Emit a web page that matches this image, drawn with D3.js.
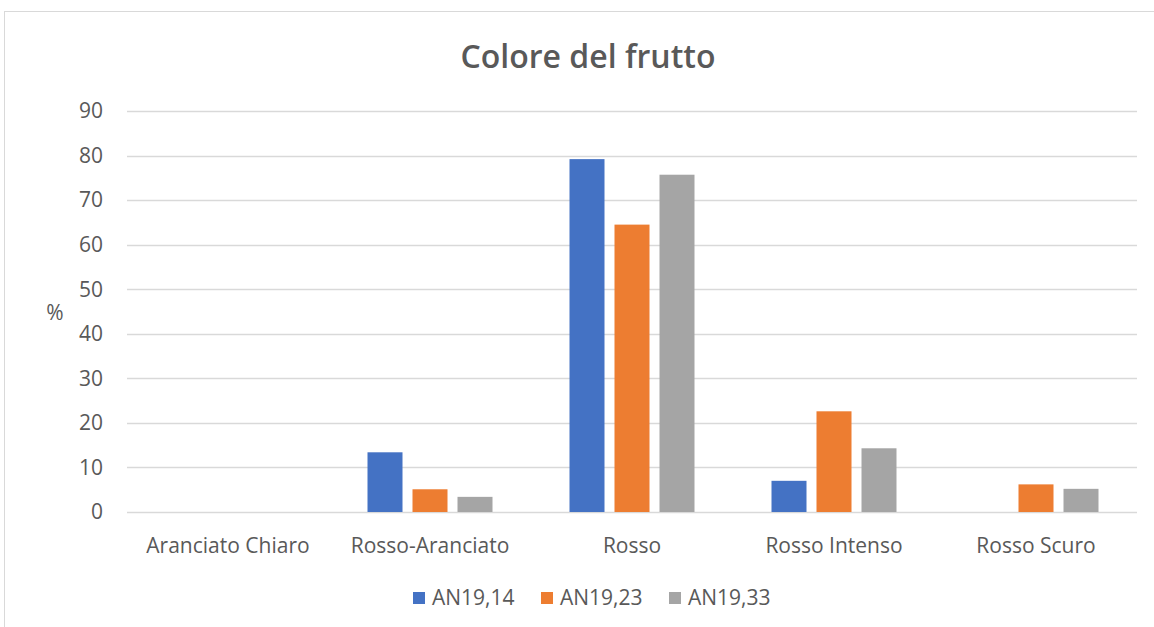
<!DOCTYPE html>
<html>
<head>
<meta charset="utf-8">
<script src="https://cdn.jsdelivr.net/npm/d3@7"></script>
<style>
  body { margin: 0; background: #fff; }
  text { font-family: "Open Sans", "Liberation Sans", sans-serif; }
</style>
</head>
<body>
<div id="chart"></div>
<script>
var categories = ["Aranciato Chiaro", "Rosso-Aranciato", "Rosso", "Rosso Intenso", "Rosso Scuro"];
var seriesNames = ["AN19,14", "AN19,23", "AN19,33"];
var seriesColors = ["#4472c4", "#ed7d31", "#a5a5a5"];
var an1914 = [0, 13.4, 79.2, 7.0, 0];
var an1923 = [0, 5.1, 64.5, 22.6, 6.2];
var an1933 = [0, 3.4, 75.7, 14.3, 5.2];
var yTicks = [0, 10, 20, 30, 40, 50, 60, 70, 80, 90];

var width = 1154, height = 627;
var margin = {left: 127, right: 17, top: 111, bottom: 115};
var fs = 21;

var svg = d3.select("#chart").append("svg")
    .attr("width", width)
    .attr("height", height);

// chart frame
svg.append("rect")
    .attr("x", 4.5).attr("y", 11.5)
    .attr("width", 1170).attr("height", 650)
    .attr("fill", "#fff")
    .attr("stroke", "#d9d9d9");

var x = d3.scaleBand()
    .domain(categories)
    .range([margin.left, width - margin.right]);

var y = d3.scaleLinear()
    .domain([0, 90])
    .range([height - margin.bottom, margin.top]);

// gridlines
svg.append("g")
    .selectAll("line")
    .data(yTicks)
    .enter()
    .append("line")
    .attr("x1", margin.left)
    .attr("x2", width - margin.right)
    .attr("y1", function(d) { return Math.round(y(d)) + 0.5; })
    .attr("y2", function(d) { return Math.round(y(d)) + 0.5; })
    .attr("stroke", "#d9d9d9")
    .attr("stroke-width", 1.3);

// y tick labels
svg.append("g")
    .selectAll("text")
    .data(yTicks)
    .enter()
    .append("text")
    .attr("x", 103)
    .attr("y", function(d) { return y(d); })
    .attr("dy", "0.35em")
    .attr("text-anchor", "end")
    .attr("fill", "#595959")
    .attr("font-size", fs)
    .text(function(d) { return d; });

// y axis title
svg.append("text")
    .attr("x", 55)
    .attr("y", 313)
    .attr("dy", "0.35em")
    .attr("text-anchor", "middle")
    .attr("fill", "#595959")
    .attr("font-size", fs)
    .text("%");

// bars
var series = [an1914, an1923, an1933];
var barW = 35, gap = 10;
var groupW = 3 * barW + 2 * gap;

series.forEach(function(vals, s) {
    svg.append("g")
        .selectAll("rect")
        .data(vals)
        .enter()
        .append("rect")
        .attr("x", function(d, i) {
            return x(categories[i]) + x.bandwidth() / 2 - groupW / 2 + s * (barW + gap);
        })
        .attr("y", function(d) { return y(d); })
        .attr("width", barW)
        .attr("height", function(d) { return y(0) - y(d); })
        .attr("fill", seriesColors[s]);
});

// category labels
svg.append("g")
    .selectAll("text")
    .data(categories)
    .enter()
    .append("text")
    .attr("x", function(d) { return x(d) + x.bandwidth() / 2; })
    .attr("y", 546)
    .attr("dy", "0.35em")
    .attr("text-anchor", "middle")
    .attr("fill", "#595959")
    .attr("font-size", fs)
    .text(function(d) { return d; });

// title
svg.append("text")
    .attr("x", 588)
    .attr("y", 57)
    .attr("dy", "0.35em")
    .attr("text-anchor", "middle")
    .attr("fill", "#595959")
    .attr("font-size", 32)
    .attr("font-weight", 600)
    .text("Colore del frutto");

// legend
var legendX = [413, 541, 669];
var legend = svg.append("g")
    .selectAll("g")
    .data(seriesNames)
    .enter()
    .append("g")
    .attr("transform", function(d, i) { return "translate(" + legendX[i] + ",598)"; });

legend.append("rect")
    .attr("x", 0).attr("y", -6)
    .attr("width", 12).attr("height", 12)
    .attr("fill", function(d, i) { return seriesColors[i]; });

legend.append("text")
    .attr("x", 19)
    .attr("y", 0)
    .attr("dy", "0.35em")
    .attr("fill", "#595959")
    .attr("font-size", fs)
    .text(function(d) { return d; });
</script>
</body>
</html>
